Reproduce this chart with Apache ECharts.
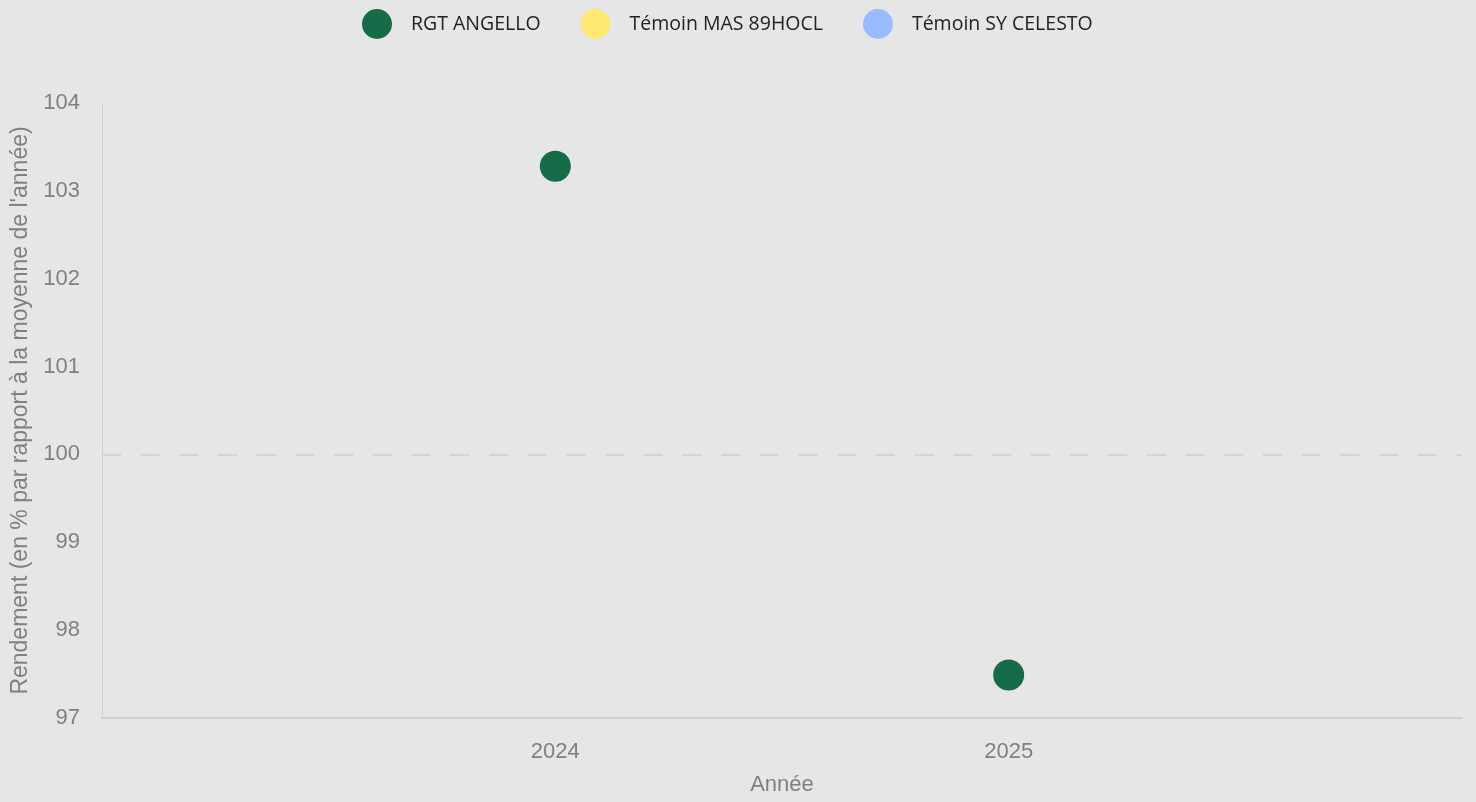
<!DOCTYPE html>
<html><head><meta charset="utf-8">
<script src="https://cdn.jsdelivr.net/npm/echarts@6/dist/echarts.min.js"></script>
<style>html,body{margin:0;padding:0;background:#e6e6e6;}#c{width:1476px;height:802px;}</style>
</head><body><div id="c"></div>
<script>
const seriesNames = ["RGT ANGELLO", "Témoin MAS 89HOCL", "Témoin SY CELESTO"];
const seriesColors = ["#166b48", "#ffe873", "#99bbff"];
const years = [2024, 2025];
const angelloValues = [103.28, 97.49];
const masValues = [];
const celestoValues = [];
const yTicks = [97, 98, 99, 100, 101, 102, 103, 104];
const refLine = 100;

const allValues = [angelloValues, masValues, celestoValues];
const chart = echarts.init(document.getElementById('c'));
chart.setOption({
  backgroundColor: '#e6e6e6',
  animation: false,
  legend: {
    top: 4, left: 357,
    icon: 'circle', itemWidth: 30, itemHeight: 30, itemGap: 40,
    textStyle: {fontFamily: 'Open Sans', fontSize: 19.5, color: '#222', padding: [0, 0, 0, 14]},
    data: seriesNames
  },
  grid: {left: 102, right: 14, top: 103, bottom: 84, outerBoundsMode: 'none', containLabel: false},
  xAxis: {
    type: 'value', min: 2023, max: 2026, interval: 1,
    name: 'Année', nameLocation: 'middle', nameGap: 56,
    nameTextStyle: {fontFamily: 'Liberation Sans', fontSize: 22, color: '#808080'},
    axisLine: {show: true, lineStyle: {color: '#cfcfcf', width: 2}},
    axisTick: {show: false}, splitLine: {show: false},
    axisLabel: {
      fontFamily: 'Liberation Sans', fontSize: 22, color: '#808080', margin: 23,
      formatter: v => years.includes(v) ? String(v) : ''
    }
  },
  yAxis: {
    type: 'value', min: yTicks[0], max: yTicks[yTicks.length - 1], interval: 1,
    name: "Rendement (en % par rapport à la moyenne de l'année)",
    nameLocation: 'middle', nameGap: 70,
    nameTextStyle: {fontFamily: 'Liberation Sans', fontSize: 23, color: '#808080'},
    axisLine: {show: true, lineStyle: {color: '#d0d0d0', width: 1}},
    axisTick: {show: false}, splitLine: {show: false},
    axisLabel: {fontFamily: 'Liberation Sans', fontSize: 22, color: '#808080', margin: 22}
  },
  series: seriesNames.map((n, i) => ({
    name: n, type: 'scatter', symbolSize: 31,
    itemStyle: {color: seriesColors[i], opacity: 1},
    data: allValues[i].map((v, j) => [years[j], v]),
    markLine: i === 0 ? {
      silent: true, symbol: 'none', label: {show: false},
      lineStyle: {type: [19, 19.7], color: '#d4d4d4', width: 2},
      data: [{yAxis: refLine}]
    } : undefined
  }))
});
</script></body></html>
